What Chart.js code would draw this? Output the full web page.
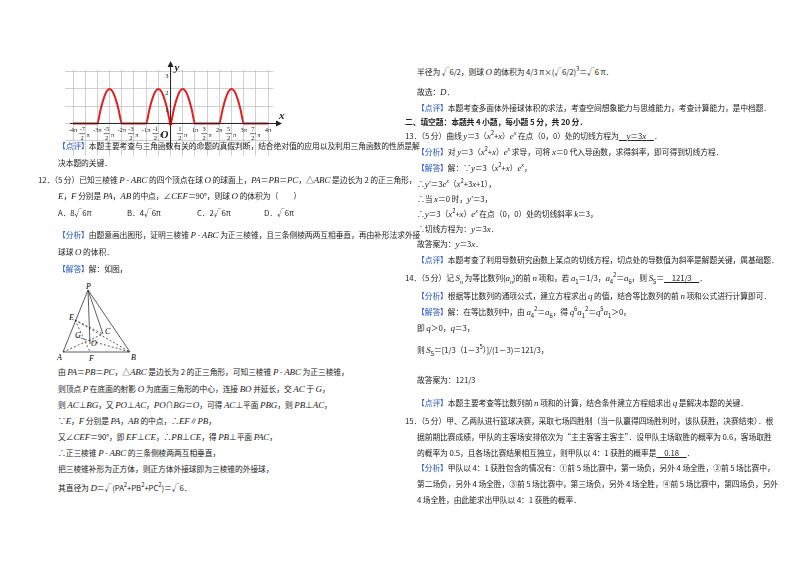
<!DOCTYPE html>
<html><head><meta charset="utf-8">
<script src="https://cdn.jsdelivr.net/npm/chart.js@4.4.1/dist/chart.umd.min.js"></script>
<style>
body{margin:0;background:#fff;width:800px;height:565px;overflow:hidden;position:relative;font-family:"Noto Sans CJK SC","DejaVu Serif",serif;color:#222}
.l{position:absolute;font-size:7.8px;white-space:nowrap;line-height:10px;letter-spacing:-0.1px}
.b{color:#2255cc}
i{font-family:"Liberation Serif",serif;font-size:9px}
sup,sub{font-size:6px;line-height:0}
#c{position:absolute;left:0;top:0}
</style></head><body>
<canvas id="c" width="290" height="158"></canvas>
<script>
// x in units of π, y values
const curveX = [-4,-3,-2.875,-2.75,-2.625,-2.5,-2.375,-2.25,-2.125,-2,-1,-0.875,-0.75,-0.625,-0.5,-0.375,-0.25,-0.125,0,0.125,0.25,0.375,0.5,0.625,0.75,0.875,1,2,2.125,2.25,2.375,2.5,2.625,2.75,2.875,3,4];
const curveY = [0,0,0.77,1.41,1.85,2,1.85,1.41,0.77,0,0,0.77,1.41,1.85,2,1.85,1.41,0.77,0,0.77,1.41,1.85,2,1.85,1.41,0.77,0,0,0.77,1.41,1.85,2,1.85,1.41,0.77,0,0];
const tickX = [-4,-3.5,-3,-2.5,-2,-1.5,-1,-0.5,0.5,1,1.5,2,2.5,3,3.5,4];
const tickLabels = ['-4π','-7/2π','-3π','-5/2π','-2π','-3/2π','-1π','-1/2π','1/2π','1π','3/2π','2π','5/2π','3π','7/2π','4π'];
const yTicks = [3,2,1,-1];

const deco = {id:'deco',afterDraw(ch){
  const {ctx,scales:{x,y}}=ch;const y0=y.getPixelForValue(0),x0=x.getPixelForValue(0);
  ctx.save();ctx.strokeStyle='#222';ctx.fillStyle='#222';ctx.lineWidth=1;
  ctx.beginPath();ctx.moveTo(x.getPixelForValue(-4)-3,y0);ctx.lineTo(x.right+7,y0);ctx.stroke();
  ctx.beginPath();ctx.moveTo(x.right+9,y0);ctx.lineTo(x.right+3,y0-3);ctx.lineTo(x.right+3,y0+3);ctx.fill();
  ctx.beginPath();ctx.moveTo(x0,y.bottom);ctx.lineTo(x0,y.top-6);ctx.stroke();
  ctx.beginPath();ctx.moveTo(x0,y.top-9);ctx.lineTo(x0-3,y.top-3);ctx.lineTo(x0+3,y.top-3);ctx.fill();
  ctx.font='italic bold 11px "Liberation Serif"';ctx.fillText('x',x.right+6,y0-4);ctx.fillText('y',x0+4,y.top+1);
  ctx.fillText('O',x0-10,y0+15);
  ctx.font='6.5px "Liberation Serif"';ctx.textAlign='center';
  tickX.forEach((v,i)=>{const s=tickLabels[i],px=x.getPixelForValue(v);
    if(s.includes('/')){const m=s.match(/(-?)(\d)\/(\d)π/);
      ctx.fillText(m[1]+m[2],px-3,y0+8);ctx.fillRect(px-6,y0+10,6,0.6);ctx.fillText(m[3],px-3,y0+17);ctx.fillText('π',px+3,y0+14);}
    else ctx.fillText(s,px,y0+9);});
  ctx.textAlign='right';yTicks.forEach(v=>ctx.fillText(String(v),x0-2,y.getPixelForValue(v)+6));
  ctx.beginPath();ctx.fillStyle='#d00';ctx.arc(x0,y0,2,0,7);ctx.fill();
  ctx.restore();}};

new Chart(document.getElementById('c'),{type:'scatter',
 data:{datasets:[{data:curveX.map((v,i)=>({x:v,y:curveY[i]})),showLine:true,borderColor:'#e02020',borderWidth:2,pointRadius:0,tension:0.4,cubicInterpolationMode:'monotone'}]},
 options:{responsive:false,animation:false,layout:{padding:{left:65,right:17,top:70,bottom:2.4}},
  plugins:{legend:{display:false},tooltip:{enabled:false}},
  scales:{x:{min:-4,max:4.2,border:{display:false},ticks:{display:false,stepSize:0.5},afterBuildTicks(s){s.ticks=[];for(let v=-4;v<=4;v+=0.5)s.ticks.push({value:v});},grid:{color:'#bbb',lineWidth:0.7}},
   y:{min:-1.4,max:3.1,border:{display:false},ticks:{display:false},afterBuildTicks(s){s.ticks=[3,2,1,0,-1].map(v=>({value:v}));},grid:{color:'#bbb',lineWidth:0.7}}}},
 plugins:[deco]});
</script>
<svg style="position:absolute;left:55px;top:282px" width="90" height="80">
<g stroke="#333" stroke-width="0.8" fill="none">
<path d="M33 8 L8 70 L75 70 Z M33 8 L48 52 M33 8 L35 62"/>
<path d="M20 38 L75 70 M20 38 L48 52 M8 70 L48 52 M20 38 L35 70 M22 55 L75 70" stroke-dasharray="2 2"/></g>
<g font-size="8" font-style="italic" font-family="Liberation Serif"><text x="31" y="7">P</text><text x="14" y="38">E</text><text x="50" y="52">C</text><text x="20" y="56">G</text><text x="36" y="64">O</text><text x="2" y="78">A</text><text x="34" y="79">F</text><text x="76" y="78">B</text></g></svg>

<div class="l" style="left:58px;top:141px"><span class="b">【点评】</span>本题主要考查与三角函数有关的命题的真假判断，结合绝对值的应用以及利用三角函数的性质是解</div>
<div class="l" style="left:58px;top:158px">决本题的关键．</div>
<div class="l" style="left:38px;top:175px">12．（5 分）已知三棱锥 <i>P</i> - <i>ABC</i> 的四个顶点在球 <i>O</i> 的球面上，<i>PA</i>＝<i>PB</i>＝<i>PC</i>，△<i>ABC</i> 是边长为 2 的正三角形，</div>
<div class="l" style="left:58px;top:191px"><i>E</i>，<i>F</i> 分别是 <i>PA</i>，<i>AB</i> 的中点，∠<i>CEF</i>＝90°，则球 <i>O</i> 的体积为（　　）</div>
<div class="l" style="left:58px;top:208px">A．8√6π</div><div class="l" style="left:127px;top:208px">B．4√6π</div><div class="l" style="left:197px;top:208px">C．2√6π</div><div class="l" style="left:264px;top:208px">D．√6π</div>
<div class="l" style="left:58px;top:230px"><span class="b">【分析】</span>由题意画出图形，证明三棱锥 <i>P</i> - <i>ABC</i> 为正三棱锥，且三条侧棱两两互相垂直，再由补形法求外接</div>
<div class="l" style="left:58px;top:247px">球球 <i>O</i> 的体积．</div>
<div class="l" style="left:58px;top:264px"><span class="b">【解答】</span>解：如图，</div>
<div class="l" style="left:58px;top:367px">由 <i>PA</i>＝<i>PB</i>＝<i>PC</i>，△<i>ABC</i> 是边长为 2 的正三角形，可知三棱锥 <i>P</i> - <i>ABC</i> 为正三棱锥，</div>
<div class="l" style="left:58px;top:384px">则顶点 <i>P</i> 在底面的射影 <i>O</i> 为底面三角形的中心，连接 <i>BO</i> 并延长，交 <i>AC</i> 于 <i>G</i>，</div>
<div class="l" style="left:58px;top:400px">则 <i>AC</i>⊥<i>BG</i>，又 <i>PO</i>⊥<i>AC</i>，<i>PO</i>∩<i>BG</i>＝<i>O</i>，可得 <i>AC</i>⊥平面 <i>PBG</i>，则 <i>PB</i>⊥<i>AC</i>，</div>
<div class="l" style="left:58px;top:416px">∵<i>E</i>，<i>F</i> 分别是 <i>PA</i>，<i>AB</i> 的中点，∴<i>EF</i>∥<i>PB</i>，</div>
<div class="l" style="left:58px;top:432px">又∠<i>CEF</i>＝90°，即 <i>EF</i>⊥<i>CE</i>，∴<i>PB</i>⊥<i>CE</i>，得 <i>PB</i>⊥平面 <i>PAC</i>，</div>
<div class="l" style="left:58px;top:448px">∴正三棱锥 <i>P</i> - <i>ABC</i> 的三条侧棱两两互相垂直，</div>
<div class="l" style="left:58px;top:464px">把三棱锥补形为正方体，则正方体外接球即为三棱锥的外接球，</div>
<div class="l" style="left:58px;top:483px">其直径为 <i>D</i>＝√(PA<sup>2</sup>+PB<sup>2</sup>+PC<sup>2</sup>)＝√6．</div>

<div class="l" style="left:417px;top:67px">半径为 √6/2，则球 <i>O</i> 的体积为 4/3 π×(√6/2)<sup>3</sup>＝√6 π．</div>
<div class="l" style="left:417px;top:87px">故选：<i>D</i>．</div>
<div class="l" style="left:417px;top:103px"><span class="b">【点评】</span>本题考查多面体外接球体积的求法，考查空间想象能力与思维能力，考查计算能力，是中档题．</div>
<div class="l" style="left:405px;top:117px;font-weight:bold">二、填空题：本题共 4 小题，每小题 5 分，共 20 分．</div>
<div class="l" style="left:405px;top:131px">13．（5 分）曲线 <i>y</i>＝3（<i>x</i><sup>2</sup>+<i>x</i>）<i>e<sup>x</sup></i> 在点（0，0）处的切线方程为<u>　<i>y</i>＝3<i>x</i>　</u>．</div>
<div class="l" style="left:417px;top:147px"><span class="b">【分析】</span>对 <i>y</i>＝3（<i>x</i><sup>2</sup>+<i>x</i>）<i>e<sup>x</sup></i> 求导，可将 <i>x</i>＝0 代入导函数，求得斜率，即可得到切线方程．</div>
<div class="l" style="left:417px;top:163px"><span class="b">【解答】</span>解：∵<i>y</i>＝3（<i>x</i><sup>2</sup>+<i>x</i>）<i>e<sup>x</sup></i>，</div>
<div class="l" style="left:417px;top:179px">∴<i>y'</i>＝3<i>e<sup>x</sup></i>（<i>x</i><sup>2</sup>+3<i>x</i>+1），</div>
<div class="l" style="left:417px;top:194px">∴当 <i>x</i>＝0 时，<i>y'</i>＝3，</div>
<div class="l" style="left:417px;top:209px">∴<i>y</i>＝3（<i>x</i><sup>2</sup>+<i>x</i>）<i>e<sup>x</sup></i> 在点（0，0）处的切线斜率 <i>k</i>＝3，</div>
<div class="l" style="left:417px;top:224px">∴切线方程为：<i>y</i>＝3<i>x</i>．</div>
<div class="l" style="left:417px;top:239px">故答案为：<i>y</i>＝3<i>x</i>．</div>
<div class="l" style="left:417px;top:255px"><span class="b">【点评】</span>本题考查了利用导数研究函数上某点的切线方程，切点处的导数值为斜率是解题关键，属基础题．</div>
<div class="l" style="left:405px;top:273px">14．（5 分）记 <i>S<sub>n</sub></i> 为等比数列{<i>a<sub>n</sub></i>}的前 <i>n</i> 项和，若 <i>a</i><sub>1</sub>＝1/3，<i>a</i><sub>4</sub><sup>2</sup>＝<i>a</i><sub>6</sub>，则 <i>S</i><sub>5</sub>＝<u>　121/3　</u>．</div>
<div class="l" style="left:417px;top:291px"><span class="b">【分析】</span>根据等比数列的通项公式，建立方程求出 <i>q</i> 的值，结合等比数列的前 <i>n</i> 项和公式进行计算即可．</div>
<div class="l" style="left:417px;top:307px"><span class="b">【解答】</span>解：在等比数列中，由 <i>a</i><sub>4</sub><sup>2</sup>＝<i>a</i><sub>6</sub>，得 <i>q</i><sup>6</sup><i>a</i><sub>1</sub><sup>2</sup>＝<i>q</i><sup>5</sup><i>a</i><sub>1</sub>＞0，</div>
<div class="l" style="left:417px;top:323px">即 <i>q</i>＞0，<i>q</i>＝3，</div>
<div class="l" style="left:417px;top:345px">则 <i>S</i><sub>5</sub>＝[1/3（1－3<sup>5</sup>）]/(1－3)＝121/3，</div>
<div class="l" style="left:417px;top:375px">故答案为：121/3</div>
<div class="l" style="left:417px;top:398px"><span class="b">【点评】</span>本题主要考查等比数列前 <i>n</i> 项和的计算，结合条件建立方程组求出 <i>q</i> 是解决本题的关键．</div>
<div class="l" style="left:405px;top:416px">15．（5 分）甲、乙两队进行篮球决赛，采取七场四胜制（当一队赢得四场胜利时，该队获胜，决赛结束）．根</div>
<div class="l" style="left:417px;top:432px">据前期比赛成绩，甲队的主客场安排依次为“主主客客主客主”．设甲队主场取胜的概率为 0.6，客场取胜</div>
<div class="l" style="left:417px;top:448px">的概率为 0.5，且各场比赛结果相互独立，则甲队以 4：1 获胜的概率是<u>　0.18　</u>．</div>
<div class="l" style="left:417px;top:463px"><span class="b">【分析】</span>甲队以 4：1 获胜包含的情况有：①前 5 场比赛中，第一场负，另外 4 场全胜，②前 5 场比赛中，</div>
<div class="l" style="left:417px;top:479px">第二场负，另外 4 场全胜，③前 5 场比赛中，第三场负，另外 4 场全胜，④前 5 场比赛中，第四场负，另外</div>
<div class="l" style="left:417px;top:495px">4 场全胜，由此能求出甲队以 4：1 获胜的概率．</div>
</body></html>
